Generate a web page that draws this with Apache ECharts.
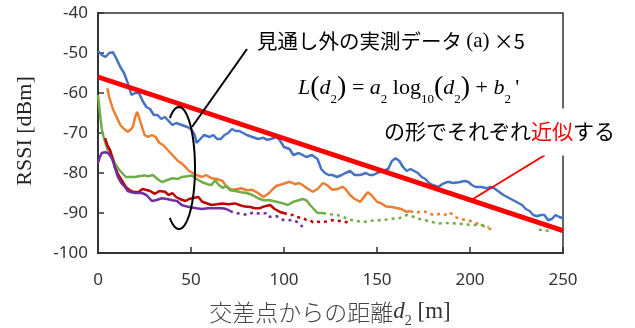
<!DOCTYPE html>
<html><head><meta charset="utf-8">
<script src="https://cdn.jsdelivr.net/npm/echarts@6/dist/echarts.min.js"></script>
<style>html,body{margin:0;padding:0;background:#fff}#c{width:635px;height:328px}</style>
</head><body><div id="c"></div>
<script>
const xTicks = [0, 50, 100, 150, 200, 250];
const yTicks = [-100, -90, -80, -70, -60, -50, -40];

const blue = [[0,-49.5],[2,-50.5],[4,-51],[6,-50],[8,-49.8],[10,-51.5],[12,-53.5],[14,-55],[16,-57.5],[18,-60.5],[20,-60],[22,-60],[24,-62],[26,-63.5],[28,-64],[30,-65.5],[32,-65.5],[34,-66.5],[36,-66],[38,-67],[40,-68],[42,-67.5],[45,-68],[48,-68.5],[50,-69],[52,-70.5],[53,-72.5],[55,-71.5],[57,-70.5],[60,-71],[62,-70.5],[64,-71.5],[66,-71.5],[68,-70.5],[70,-70],[72,-69],[74,-69.5],[76,-69.5],[78,-70],[80,-70.5],[83,-71],[86,-71.5],[89,-71.2],[91,-71.7],[93,-71.5],[96,-71],[98,-72],[100,-73.5],[103,-74],[105,-75.5],[108,-75],[110,-75.5],[112,-76],[115,-75.5],[118,-76.5],[120,-79],[122,-80],[124,-80.5],[126,-80.5],[128.5,-81],[131,-80.5],[133,-80],[135.5,-79.5],[138,-80.5],[141,-80.5],[144,-80],[146,-80.5],[148,-80.5],[150,-80],[153,-79.5],[156,-79],[158,-77],[160,-76.3],[162,-77],[164,-78.5],[166,-79.5],[168,-79],[170,-79.5],[172,-80],[174,-81],[176,-81.5],[178,-82.5],[180,-83],[183,-83.5],[185,-82.8],[188,-82.2],[191,-82.5],[194,-82.3],[197,-82],[199,-82.2],[201,-83],[203,-83.5],[206,-83.5],[209,-83.8],[211,-83.5],[213,-83.8],[215,-84.5],[218,-85.5],[220,-86],[222,-86.5],[224,-87],[226,-87.5],[228,-88],[230,-89],[232,-89.5],[234,-90.5],[236,-90.8],[238,-90.5],[240,-90.5],[242,-91.8],[244,-91.5],[246,-90.5],[248,-91],[250,-91.3]];

const orange = [[5,-58.8],[6,-61],[7,-62.5],[8,-64],[10,-66],[12,-68],[14,-69],[16,-69.7],[18,-69],[19,-68],[20,-66],[21,-64.7],[22,-66],[23,-67.5],[25,-70.5],[27,-71],[29,-70.5],[31,-71],[33,-72.5],[35,-73],[37,-74],[39,-75],[41,-76],[43,-77],[45,-77.6],[47,-78.5],[49,-79.5],[51,-80],[53,-80.5],[56,-81],[58,-80.5],[61,-81.3],[64,-81.5],[67,-82],[69,-83.4],[72,-84.2],[75,-84],[77,-83.8],[80,-84.3],[83,-84.2],[86,-85],[89,-86],[92,-85],[94,-84],[96,-83.2],[99,-82.8],[101,-82.5],[103,-82.2],[106,-82.8],[108,-82.5],[110,-83],[113,-84],[115.5,-84.7],[118,-84],[121,-82.5],[123,-83],[126,-84.2],[129,-84],[131.5,-83.4],[133,-84],[135.5,-85.5],[138,-86.5],[141,-87.2],[143,-86],[145,-84.8],[147,-85.5],[150,-87.2],[152,-87.5],[155,-88.4],[158,-88.5],[161,-88.8],[163,-89],[166,-89.7],[168,-89.5]];
const orangeTail = [[168,-89.5],[170,-90],[173,-89.7],[176,-89.7],[178,-90.2],[181,-90.5],[184,-90.2],[186.5,-90.5],[189,-89.8],[192,-91],[195,-91.5],[199,-91.8],[203,-92.5],[207,-93.2],[212,-94.2]];

const green = [[0,-60.5],[1,-65],[2,-69],[3,-71],[5,-74],[7,-75.5],[9,-77.5],[11,-79],[13,-80],[15,-81],[17,-81],[20,-81],[22,-80.8],[25,-80.6],[27,-80.8],[29.5,-80.5],[32,-81.5],[34.5,-82.3],[37,-81.8],[40,-81.3],[43,-81.5],[45,-81],[48,-80.8],[50.5,-80.6],[53,-81.5],[56,-82.3],[59,-82.8],[61,-83],[63,-81.8],[65,-83],[67,-83.7],[69,-83.2],[71,-84.3],[74,-84.5],[77,-84.8],[80,-85],[83,-85.5],[86,-86.3],[89,-86.8],[92.5,-86.8],[96,-87.2],[99.5,-87.6],[102,-88],[105,-87.2],[108,-86.8],[110,-86.5],[112,-86.8],[114,-88],[116,-89],[118,-90],[121,-90]];
const greenTail = [[121,-90],[125,-90.3],[128.5,-90.5],[132,-91],[135.5,-91.7],[139,-92],[142.5,-92.3],[146,-92],[150,-91.8],[153,-91.8],[157,-91.5],[162,-91.3],[166,-90.5],[170,-91],[173,-91.5],[176,-91.8],[180,-92.3],[183,-92.6],[187,-92.5],[192,-92.6],[197,-92.8],[202,-93],[206.5,-93],[210,-93.5],[225,'-'],[237,-94.2],[243,-94.5]];

const red = [[3.8,-71.3],[5,-73],[6.5,-74.3],[8,-76.5],[9,-78.5],[11,-80.5],[13,-82],[15,-83.5],[17,-84.3],[19,-84.7],[21.5,-84.8],[24,-84],[25,-83.8],[28,-84.5],[30.6,-85.2],[33,-84.5],[36,-84.7],[38,-85.5],[40,-85],[42,-86],[44,-86.5],[47,-87],[49,-86.5],[52,-86.2],[54,-86],[56,-87.2],[58,-87.5],[61,-88],[64,-87.8],[66.7,-87.6],[70,-87.8],[73.7,-87.6],[76,-88],[79,-88.4],[82,-88.5],[84.4,-88.8],[87,-88.8],[89,-88.4],[92.5,-88],[95,-89],[98,-89.8],[100,-90]];
const redTail = [[100,-90],[103,-90.5],[105,-90.5],[107,-91],[110,-91.3],[112,-91.7],[114,-91.8],[115.6,-92.3],[118,-92.2],[121,-92.3],[124,-92],[126,-91.8],[130,-92],[134,-92.3],[136,-92.5]];

const purple = [[0,-77.5],[1,-76],[2,-75],[3.8,-74.8],[5.4,-75],[7,-76],[8,-77],[9,-78.5],[10.7,-81],[12.5,-82.5],[14.5,-83.5],[16,-84.5],[18,-84.8],[20,-85],[23.6,-85],[26,-85.5],[29,-87],[31,-86.8],[34.4,-86.3],[37,-86.5],[40,-86.8],[42.5,-87],[45,-88],[47.8,-88.4],[50.5,-88.6],[53,-88.8],[56,-89],[59,-88.8],[61,-88.8],[64,-88.8],[66.7,-88.8],[69,-89],[71,-89.5]];
const purpleTail = [[71,-89.5],[73.7,-90],[77,-90.2],[80.6,-90.5],[83.5,-89.8],[87,-90.2],[91,-90],[92.5,-91],[96,-90.8],[99.5,-91.7],[103,-91.8],[105,-91.7],[108,-92.5],[110,-93.5]];

const fitLine = [[0,-56],[250,-94.4]];

const chart = echarts.init(document.getElementById('c'), null, {renderer:'canvas'});
function solid(data, color){
  return {type:'line', data, showSymbol:false, lineStyle:{color, width:2.5}, z:2, silent:true};
}
function dotted(data, color){
  return {type:'line', data, showSymbol:false, lineStyle:{color, width:2.5, type:[3,4]}, z:2, silent:true, connectNulls:false};
}
const ax = {fontFamily:'Noto Sans', fontSize:17, color:'#333'};
const sansJ = '"Noto Sans CJK JP"';
const arcPts = [];
for (let a=-125; a<=125; a+=5){ const t=a*Math.PI/180; arcPts.push([179+16*Math.cos(t), 168+61*Math.sin(t)]); }

chart.setOption({
  animation:false,
  grid:{left:98, right:72, top:13, bottom:75, show:true, borderColor:'#333', borderWidth:1.5, backgroundColor:'transparent'},
  xAxis:{type:'value', min:0, max:250, interval:50,
    axisLine:{show:true, onZero:false, lineStyle:{color:'#333', width:2}},
    axisTick:{show:true, inside:true, length:6, lineStyle:{color:'#333', width:1.5}},
    axisLabel:{...ax, margin:19, formatter:v=>xTicks.includes(v)?String(v):''},
    splitLine:{show:false}},
  yAxis:{type:'value', min:-100, max:-40, interval:10,
    axisLine:{show:true, onZero:false, lineStyle:{color:'#333', width:2}},
    axisTick:{show:true, inside:true, length:6, lineStyle:{color:'#333', width:1.5}},
    axisLabel:{...ax, margin:10, formatter:v=>yTicks.includes(v)?String(v):''},
    splitLine:{show:false}},
  series:[
    solid(blue,'#4472C4'),
    solid(orange,'#ED7D31'), dotted(orangeTail,'#ED7D31'),
    solid(green,'#70AD47'), dotted(greenTail,'#70AD47'),
    solid(red,'#C00000'), dotted(redTail,'#C00000'),
    solid(purple,'#7030A0'), dotted(purpleTail,'#7030A0'),
    {type:'line', data:fitLine, showSymbol:false, lineStyle:{color:'#FF0000', width:5}, z:3, silent:true}
  ],
  graphic:[
    {type:'text', x:25, y:131, rotation:Math.PI/2, z:10,
      style:{text:'RSSI [dBm]', font:'22px "Liberation Serif"', fill:'#222', align:'center', verticalAlign:'middle'}},
    {type:'text', x:330, y:312, z:10,
      style:{text:'{j|交差点からの距離}{i|d}{s|2}{n| [m]}', align:'center', verticalAlign:'middle',
        rich:{
          j:{fontFamily:sansJ, fontSize:23, fontWeight:300, fill:'#444', lineHeight:32, verticalAlign:'middle'},
          i:{fontFamily:'Liberation Serif', fontStyle:'italic', fontSize:23, fill:'#333', lineHeight:32, verticalAlign:'middle'},
          s:{fontFamily:'Liberation Serif', fontSize:14, fill:'#333', lineHeight:15, verticalAlign:'bottom'},
          n:{fontFamily:'Liberation Serif', fontSize:23, fill:'#333', lineHeight:32, verticalAlign:'middle'}
        }}},
    {type:'polyline', z:10, shape:{points:arcPts}, style:{stroke:'#000', lineWidth:2, fill:null}},
    {type:'line', z:10, shape:{x1:192, y1:127, x2:247, y2:49}, style:{stroke:'#000', lineWidth:2}},
    {type:'line', z:10, shape:{x1:473, y1:199, x2:545, y2:155}, style:{stroke:'#FF0000', lineWidth:2}},
    {type:'text', x:257, y:41, z:11,
      style:{text:'{j|見通し外の実測データ}{a|\u2009(a)\u2009}{k|×5}', verticalAlign:'middle', backgroundColor:'#fff',
        rich:{
          j:{fontFamily:sansJ, fontSize:20.5, fill:'#000', lineHeight:26},
          a:{fontFamily:'Liberation Serif', fontSize:21, fill:'#000', lineHeight:26},
          k:{fontFamily:sansJ, fontSize:20, fill:'#000', lineHeight:26}
        }}},
    {type:'text', x:298, y:88, z:11,
      style:{text:'{i|L}{p|(}{i|d}{s|2}{p|)}{n| = }{i|a}{s|2}{n| log}{s|10}{p|(}{i|d}{s|2}{p|)}{n| + }{i|b}{s|2}{n|\u2009\'}',
        verticalAlign:'middle',
        rich:{
          i:{fontFamily:'Liberation Serif', fontStyle:'italic', fontSize:22, fill:'#000', lineHeight:36, verticalAlign:'middle'},
          n:{fontFamily:'Liberation Serif', fontSize:22, fill:'#000', lineHeight:36, verticalAlign:'middle'},
          p:{fontFamily:'Liberation Serif', fontSize:28, fill:'#000', lineHeight:36, verticalAlign:'middle'},
          s:{fontFamily:'Liberation Serif', fontSize:13, fill:'#000', lineHeight:13, verticalAlign:'bottom'}
        }}},
    {type:'text', x:381, y:132, z:11,
      style:{text:'{j|の形でそれぞれ}{r|近似}{j|する}', verticalAlign:'middle', backgroundColor:'#fff', padding:[11,4,12,3],
        rich:{
          j:{fontFamily:sansJ, fontSize:21, fill:'#000', lineHeight:24},
          r:{fontFamily:sansJ, fontSize:21, fill:'#FF0000', lineHeight:24}
        }}}
  ]
});
</script></body></html>
